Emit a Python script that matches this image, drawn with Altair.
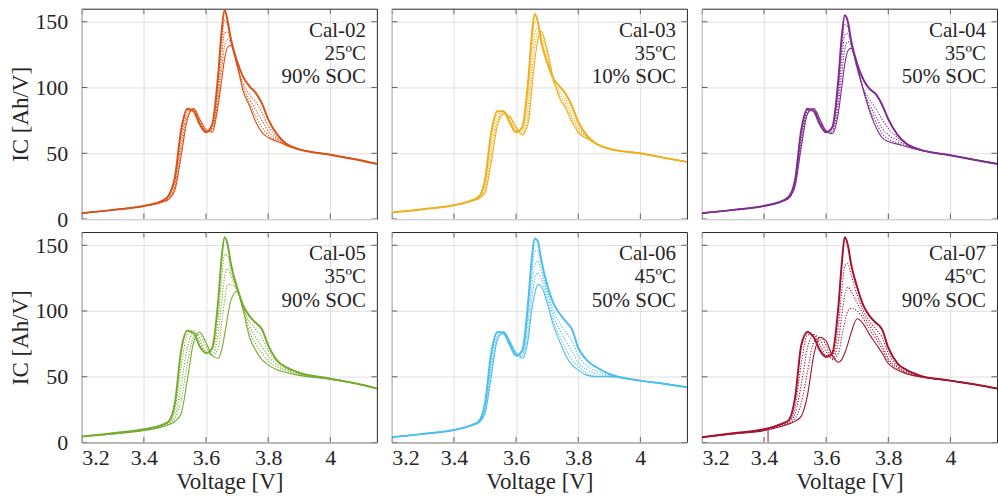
import altair as alt
import pandas as pd

# ---------------- data ----------------
voltage = [3.20, 3.30, 3.40, 3.46, 3.48, 3.50, 3.52, 3.54, 3.56, 3.58, 3.60, 3.62, 3.64, 3.65,
           3.66, 3.67, 3.68, 3.70, 3.72, 3.74, 3.76, 3.78, 3.80, 3.83, 3.86, 3.90, 4.00, 4.08, 4.15]

x_ticks = [3.2, 3.4, 3.6, 3.8, 4.0]
y_ticks = [0, 50, 100, 150]

cal02_fresh = [4.5, 7, 10, 14, 18, 32, 68, 84, 82, 72, 66, 72, 112, 142, 159, 150, 137, 120, 108, 101, 96, 88, 76, 64, 57, 53, 49, 45.5, 42]
cal02_mid1 = [4.5, 7, 10, 13.5, 17, 29, 63, 83, 83, 73, 66, 70, 105, 133, 151, 147, 136, 117, 103, 95, 89, 81, 71, 62, 57, 53, 49, 45.5, 42]
cal02_mid2 = [4.5, 7, 10, 13.5, 16, 26, 57, 81, 84, 74, 67, 68, 98, 122, 142, 142, 135, 116, 100, 91, 83, 75, 67, 61, 56, 53, 49, 45.5, 42]
cal02_mid3 = [4.5, 7, 10, 13, 15.5, 24, 52, 78, 84, 75, 67, 67, 93, 113, 132, 137, 134, 117, 98, 88, 78, 70, 64, 60, 56, 53, 49, 45.5, 42]
cal02_aged = [4.5, 7, 10, 13, 15, 22, 48, 76, 84, 76, 68, 66, 88, 105, 122, 131, 132, 118, 97, 86, 74, 66, 62, 59, 56, 53, 49, 45.5, 42]

cal03_fresh = [5, 7.5, 10.5, 14.5, 17, 30, 66, 82, 82, 73, 66, 70, 108, 138, 156, 150, 136, 119, 107, 101, 95, 86, 74, 63, 57, 53.5, 50, 46.5, 43.5]
cal03_mid1 = [5, 7.5, 10.5, 14.5, 16.5, 27, 60, 80, 82, 75, 67, 68, 98, 128, 150, 149, 138, 120, 105, 97, 91, 82, 71, 62, 57, 53.5, 50, 46.5, 43.5]
cal03_mid2 = [5, 7.5, 10.5, 14, 16, 24, 53, 77, 82, 76, 68, 66, 88, 116, 140, 146, 141, 124, 105, 95, 88, 78, 69, 62, 57, 53.5, 50, 46.5, 43.5]
cal03_mid3 = [5, 7.5, 10.5, 14, 16, 22, 48, 74, 81, 77, 69, 65, 80, 106, 130, 142, 143, 127, 106, 93, 86, 76, 67, 61, 57, 53.5, 50, 46.5, 43.5]
cal03_aged = [5, 7.5, 10.5, 14, 15.5, 20, 43, 71, 80, 78, 70, 64, 74, 97, 120, 136, 143, 129, 107, 92, 84, 74, 66, 61, 57, 53.5, 50, 46.5, 43.5]

cal04_fresh = [4.5, 7, 10, 14, 17, 30, 68, 84, 82, 72, 66, 70, 108, 138, 155, 150, 136, 118, 106, 99, 95, 87, 76, 64, 57, 53, 48.5, 45, 42]
cal04_mid1 = [4.5, 7, 10, 14, 16.5, 28, 64, 83, 83, 73, 66, 69, 102, 130, 148, 146, 135, 114, 99, 91, 84, 76, 69, 62, 57, 53, 48.5, 45, 42]
cal04_mid2 = [4.5, 7, 10, 13.5, 16, 27, 60, 82, 83, 74, 67, 67, 95, 120, 140, 141, 134, 115, 98, 87, 78, 69, 64, 60, 56, 53, 48.5, 45, 42]
cal04_mid3 = [4.5, 7, 10, 13.5, 16, 26, 57, 81, 84, 75, 67, 66, 88, 110, 129, 135, 132, 115, 98, 84, 74, 65, 61, 58, 55.5, 52.5, 48.5, 45, 42]
cal04_aged = [4.5, 7, 10, 13.5, 16, 25, 55, 80, 84, 76, 67, 65, 82, 100, 118, 128, 130, 116, 98, 82, 70, 62, 59, 57, 55, 52.5, 48.5, 45, 42]

cal05_fresh = [4.5, 7, 10, 13.5, 16, 30, 70, 85, 83, 73, 68, 72, 110, 140, 156, 150, 136, 118, 104, 96, 91, 86, 74, 62, 57, 53, 48.5, 45, 41]
cal05_mid1 = [4.5, 7, 9.5, 13, 15, 25, 58, 82, 85, 76, 68, 70, 96, 124, 143, 142, 131, 116, 102, 92, 86, 80, 70, 61, 56, 52.5, 48.5, 45, 41]
cal05_mid2 = [4.5, 6.5, 9.5, 12.5, 14.5, 20, 44, 72, 84, 79, 69, 67, 84, 106, 126, 132, 127, 116, 101, 88, 80, 73, 66, 59, 55, 52, 48.5, 45, 41]
cal05_mid3 = [4.5, 6.5, 9, 12, 14, 18, 32, 60, 80, 82, 73, 66, 72, 90, 108, 120, 120, 116, 101, 84, 75, 68, 62, 57, 54, 51.5, 48, 45, 41]
cal05_aged = [4.5, 6.5, 9, 12, 13.5, 16, 22, 48, 76, 84, 76, 66, 64, 70, 82, 96, 108, 115, 100, 80, 70, 63, 59, 55, 53, 51, 48, 45, 41]

cal06_fresh = [4, 6.5, 9.5, 13.5, 16, 30, 68, 84, 83, 74, 66, 70, 110, 138, 155, 153, 140, 120, 106, 98, 92, 86, 72, 62, 57, 52, 47, 44.5, 42]
cal06_mid1 = [4, 6.5, 9.5, 13.5, 15.5, 28, 63, 83, 84, 75, 67, 68, 102, 128, 145, 146, 136, 116, 100, 91, 84, 77, 66, 58, 54, 51, 47, 44.5, 42]
cal06_mid2 = [4, 6.5, 9.5, 13, 15.5, 25, 58, 81, 84, 76, 67, 66, 94, 117, 135, 138, 131, 113, 96, 86, 77, 69, 61, 55, 52, 50.5, 47, 44.5, 42]
cal06_mid3 = [4, 6.5, 9.5, 13, 15, 23, 54, 79, 84, 76, 68, 65, 86, 108, 124, 129, 125, 109, 92, 81, 71, 63, 58, 52, 50.5, 50, 47, 44.5, 42]
cal06_aged = [4, 6.5, 9.5, 13, 15, 22, 50, 78, 84, 77, 68, 64, 80, 100, 113, 120, 119, 106, 89, 77, 66, 59, 55, 51, 50, 50, 47, 44.5, 42]

cal07_fresh = [4, 7, 10, 14.5, 17, 34, 74, 84, 80, 70, 65, 68, 105, 135, 156, 150, 136, 118, 104, 96, 91, 86, 72, 60, 55, 51, 47, 44, 41]
cal07_mid1 = [4, 7, 10, 14, 16, 27, 60, 82, 82, 74, 66, 66, 90, 115, 134, 136, 128, 112, 100, 92, 86, 80, 68, 58, 54, 50.5, 47, 44, 41]
cal07_mid2 = [4, 6.5, 9.5, 13.5, 15, 22, 44, 72, 82, 78, 69, 64, 78, 96, 112, 118, 115, 106, 97, 89, 82, 74, 64, 57, 53, 50.5, 47, 44, 41]
cal07_mid3 = [4, 6.5, 9, 13, 14.5, 18, 30, 54, 76, 80, 74, 63, 68, 80, 92, 100, 102, 100, 94, 86, 79, 71, 62, 56, 52.5, 50, 47, 44, 41]
cal07_aged = [4, 6.5, 9, 12.5, 14, 16, 20, 36, 66, 80, 77, 66, 61, 63, 68, 75, 83, 94, 90, 82, 75, 68, 60, 55, 52, 50, 47, 44, 41]
cal07_glitch_v = [3.413, 3.413]
cal07_glitch_ic = [0, 9.5]

panel_names = ["Cal-02", "Cal-03", "Cal-04", "Cal-05", "Cal-06", "Cal-07"]
panel_temps = ["25ºC", "35ºC", "35ºC", "35ºC", "45ºC", "45ºC"]
panel_socs = ["90% SOC", "10% SOC", "50% SOC", "90% SOC", "50% SOC", "90% SOC"]
panel_colors = ["#D95319", "#EDB120", "#7E2F8E", "#77AC30", "#4DBEEE", "#A2142F"]
panel_curves = [
    [cal02_fresh, cal02_mid1, cal02_mid2, cal02_mid3, cal02_aged],
    [cal03_fresh, cal03_mid1, cal03_mid2, cal03_mid3, cal03_aged],
    [cal04_fresh, cal04_mid1, cal04_mid2, cal04_mid3, cal04_aged],
    [cal05_fresh, cal05_mid1, cal05_mid2, cal05_mid3, cal05_aged],
    [cal06_fresh, cal06_mid1, cal06_mid2, cal06_mid3, cal06_aged],
    [cal07_fresh, cal07_mid1, cal07_mid2, cal07_mid3, cal07_aged],
]
curve_kinds = ["fresh", "mid", "mid", "mid", "aged"]

# ---------------- styling ----------------
FONT = "Liberation Serif"
INK = "#262626"
W, H = 296, 211
XDOM = [3.2, 4.15]
YDOM = [0, 160]

# ---------------- one long table ----------------
rows = []
for i, name in enumerate(panel_names):
    prow, pcol = divmod(i, 3)
    base = {"panel": name, "prow": prow, "pcol": pcol}
    for k, (vals, kind) in enumerate(zip(panel_curves[i], curve_kinds)):
        for v, ic in zip(voltage, vals):
            rows.append({**base, "kind": kind, "curve": k, "V": v, "IC": ic, "t": ""})
    for v in x_ticks:
        rows.append({**base, "kind": "xtick", "curve": 0, "V": v, "IC": YDOM[0], "t": ""})
        rows.append({**base, "kind": "xtick", "curve": 1, "V": v, "IC": YDOM[1], "t": ""})
    for ic in y_ticks:
        rows.append({**base, "kind": "ytick", "curve": 0, "V": XDOM[0], "IC": ic, "t": ""})
        rows.append({**base, "kind": "ytick", "curve": 1, "V": XDOM[1], "IC": ic, "t": ""})
    rows.append({**base, "kind": "lab0", "curve": 0, "V": None, "IC": None, "t": name})
    rows.append({**base, "kind": "lab1", "curve": 0, "V": None, "IC": None, "t": panel_temps[i]})
    rows.append({**base, "kind": "lab2", "curve": 0, "V": None, "IC": None, "t": panel_socs[i]})
for v, ic in zip(cal07_glitch_v, cal07_glitch_ic):
    rows.append({"panel": "Cal-07", "prow": 1, "pcol": 2, "kind": "glitch", "curve": 9,
                 "V": v, "IC": ic, "t": ""})
df = pd.DataFrame(rows)

xaxis = alt.Axis(values=x_ticks, format=".1~f", title="Voltage [V]",
                 labelPadding=4, titlePadding=2)
yaxis = alt.Axis(values=y_ticks, title="IC [Ah/V]", labelPadding=13, titlePadding=2)
x = alt.X("V:Q", scale=alt.Scale(domain=XDOM, nice=False, zero=False), axis=xaxis)
y = alt.Y("IC:Q", scale=alt.Scale(domain=YDOM, nice=False), axis=yaxis)
color = alt.Color("panel:N", scale=alt.Scale(domain=panel_names, range=panel_colors), legend=None)

base = alt.Chart()
mids = base.transform_filter(alt.datum.kind == "mid").mark_line(
    strokeWidth=1.1, strokeDash=[1.2, 1.6], interpolate="monotone", clip=True
).encode(x=x, y=y, color=color, detail="curve:N")
aged = base.transform_filter(alt.datum.kind == "aged").mark_line(
    strokeWidth=1.1, interpolate="monotone", clip=True
).encode(x=x, y=y, color=color)
fresh = base.transform_filter(alt.datum.kind == "fresh").mark_line(
    strokeWidth=2, interpolate="monotone", clip=True
).encode(x=x, y=y, color=color)
glitch = base.transform_filter(alt.datum.kind == "glitch").mark_line(
    strokeWidth=1, clip=True
).encode(x=x, y=y, color=color)
xt = base.transform_filter(alt.datum.kind == "xtick").mark_tick(
    orient="vertical", size=11, thickness=1, color=INK, clip=True
).encode(x=x, y=y)
yt = base.transform_filter(alt.datum.kind == "ytick").mark_tick(
    orient="horizontal", size=11, thickness=1, color=INK, clip=True
).encode(x=x, y=y)
texts = []
for kind, yy in zip(["lab0", "lab1", "lab2"], [28, 51.5, 75]):
    texts.append(
        base.transform_filter(alt.datum.kind == kind).mark_text(
            align="right", baseline="alphabetic", font=FONT, fontSize=21, color=INK
        ).encode(text="t:N", x=alt.value(W - 11), y=alt.value(yy))
    )

layered = alt.layer(mids, aged, fresh, glitch, xt, yt, *texts, data=df).properties(width=W, height=H)

chart = layered.facet(
    row=alt.Row("prow:O", header=alt.Header(labels=False, title=None)),
    column=alt.Column("pcol:O", header=alt.Header(labels=False, title=None)),
    spacing={"row": 11, "column": 13},
).properties(
    padding={"left": 10, "top": 7, "right": 0, "bottom": 0},
    background="white",
).configure_axis(
    labelFont=FONT, labelFontSize=22, labelColor=INK,
    titleFont=FONT, titleFontSize=23, titleFontWeight="normal", titleColor=INK,
    gridColor="#dfdfdf", gridWidth=1, domain=False, ticks=False,
).configure_view(stroke=INK, strokeWidth=1)

chart.save("out.html", embed_options={"renderer": "svg", "actions": False})
